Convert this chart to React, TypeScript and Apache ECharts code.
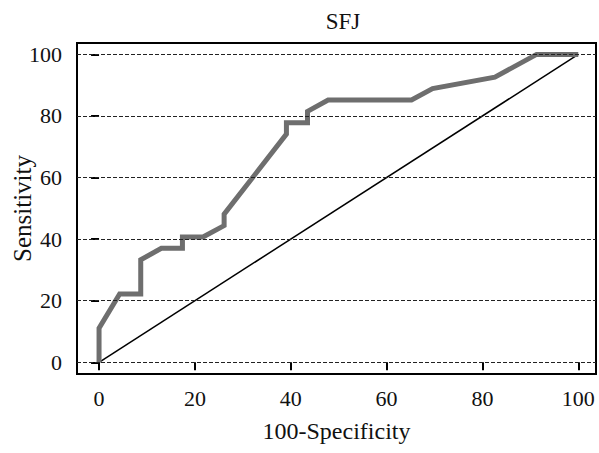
import React, { useEffect, useRef } from "react";
import * as echarts from "echarts";

const titleText = "SFJ";
const xName = "100-Specificity";
const yName = "Sensitivity";
const tickValues = [0, 20, 40, 60, 80, 100];
const rocX = [0, 0, 4.3, 8.7, 8.7, 13.0, 17.4, 17.4, 21.7, 26.1, 26.1, 39.1, 39.1, 43.5, 43.5, 47.8, 65.2, 69.6, 82.6, 91.3, 100];
const rocY = [0, 11.1, 22.2, 22.2, 33.3, 37.0, 37.0, 40.7, 40.7, 44.4, 48.1, 74.1, 77.8, 77.8, 81.5, 85.2, 85.2, 88.9, 92.6, 100, 100];
const refX = [0, 100];
const refY = [0, 100];

const FONT = "'Liberation Serif', 'Times New Roman', Times, serif";

export default function App() {
  const ref = useRef<HTMLDivElement>(null);
  useEffect(() => {
    if (!ref.current) return;
    const chart = echarts.init(ref.current, null, { renderer: "svg" });
    chart.setOption({
      animation: false,
      backgroundColor: "#fff",
      textStyle: { fontFamily: FONT },
      title: {
        text: titleText,
        left: 338,
        textAlign: "center",
        top: 5,
        textStyle: { fontFamily: FONT, fontSize: 23, fontWeight: "normal", color: "#111" },
      },
      grid: {
        left: 77,
        right: 3,
        top: 43,
        bottom: 79,
        show: true,
        borderColor: "#000",
        borderWidth: 2,
        backgroundColor: "#fff",
        containLabel: false,
        outerBoundsMode: "none",
      },
      xAxis: {
        type: "value",
        min: -4.6,
        max: 103.7,
        name: xName,
        nameLocation: "middle",
        nameGap: 45,
        nameMoveOverlap: false,
        nameTextStyle: { fontFamily: FONT, fontSize: 24, color: "#111" },
        axisLine: { show: false },
        axisTick: { show: true, customValues: tickValues, length: 8, lineStyle: { color: "#000", width: 2 } },
        axisLabel: { customValues: tickValues, fontFamily: FONT, fontSize: 22, color: "#111", margin: 13 },
        splitLine: { show: false },
      },
      yAxis: {
        type: "value",
        min: -3.8,
        max: 103.7,
        name: yName,
        nameLocation: "middle",
        nameGap: 42,
        nameMoveOverlap: false,
        nameTextStyle: { fontFamily: FONT, fontSize: 25, color: "#111" },
        axisLine: { show: false },
        axisTick: { show: true, customValues: tickValues, length: 8, lineStyle: { color: "#000", width: 2 } },
        axisLabel: { customValues: tickValues, fontFamily: FONT, fontSize: 22, color: "#111", margin: 15 },
        splitLine: { show: false },
      },
      series: [
        {
          type: "line",
          data: [],
          z: 1,
          silent: true,
          markLine: {
            silent: true,
            symbol: "none",
            label: { show: false },
            lineStyle: { type: [4, 2], color: "#222", width: 1 },
            data: tickValues.map((v) => ({ yAxis: v })),
          },
        },
        {
          type: "line",
          data: refX.map((x, i) => [x, refY[i]]),
          showSymbol: false,
          symbol: "none",
          z: 2,
          lineStyle: { color: "#000", width: 1.5 },
        },
        {
          type: "line",
          data: rocX.map((x, i) => [x, rocY[i]]),
          showSymbol: false,
          symbol: "none",
          z: 3,
          lineStyle: { color: "#6e6e6e", width: 5, join: "miter" },
        },
      ],
    });
    return () => chart.dispose();
  }, []);
  return (
    <div
      ref={ref}
      style={{ position: "fixed", left: 0, top: 0, width: 599, height: 453, background: "#fff" }}
    />
  );
}
